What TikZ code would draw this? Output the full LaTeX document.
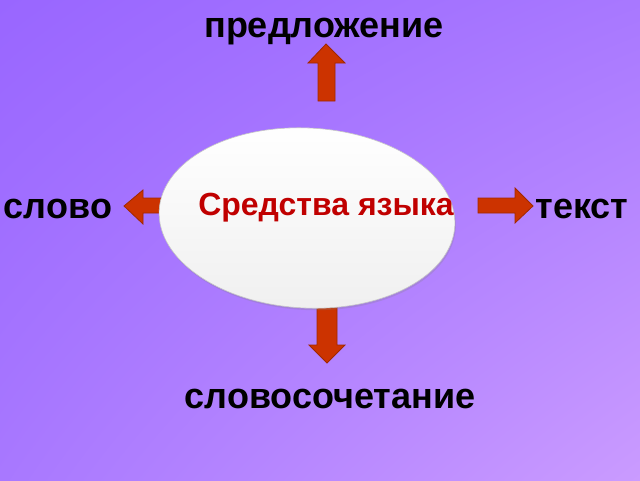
\documentclass[tikz,border=0pt]{standalone}
\usepackage{fontspec}
\setmainfont{Liberation Sans}
\usetikzlibrary{shadows, shadings, shapes.geometric}
\definecolor{bgA}{HTML}{9966FF}
\definecolor{bgB}{HTML}{A878FF}
\definecolor{bgC}{HTML}{CA9BFF}
\definecolor{arrowfill}{HTML}{CC3300}
\definecolor{arrowline}{HTML}{A02800}
\definecolor{titlered}{HTML}{C00000}
\tikzset{
  blockarrow/.style={fill=arrowfill, draw=arrowline, line width=0.8pt, line join=miter},
  word/.style={font=\bfseries\fontsize{36}{40}\selectfont, anchor=base, inner sep=0pt},
}
\begin{document}
\begin{tikzpicture}[x=1pt, y=-1pt]
    % background
    \shade[upper left=bgA, upper right=bgB, lower left=bgB, lower right=bgC] (0,0) rectangle (640,480);
    \useasboundingbox (0,0) rectangle (640,480);

    % arrows (drawn under the oval)
    \path[blockarrow] (318,101) -- (318,63) -- (308,63) -- (326,44) -- (345,63) -- (335,63) -- (335,101) -- cycle;
    \path[blockarrow] (317,290) -- (317,345) -- (309,345) -- (327,363) -- (345,345) -- (337,345) -- (337,290) -- cycle;
    \path[blockarrow] (175,198) -- (143,198) -- (143,190) -- (124,206) -- (143,224) -- (143,213) -- (175,213) -- cycle;
    \path[blockarrow] (478,198) -- (515,198) -- (515,188) -- (533,206) -- (515,223) -- (515,213) -- (478,213) -- cycle;

    % oval in the middle
    \node[ellipse, rotate=-3, minimum width=296pt, minimum height=180pt, top color=white, bottom color=gray!12,
          draw=gray!45, line width=0.6pt, drop shadow={opacity=0.25, shadow xshift=1pt, shadow yshift=-2pt}]
      (oval) at (307,218) {};
    \node[font=\bfseries\fontsize{32}{36}\selectfont, text=titlered, anchor=base, inner sep=0pt]
      (title) at (326,215) {Средства языка};

    % words
    \node[word] (predl) at (324,37) {предложение};
    \node[word] (slovo) at (58,218) {слово};
    \node[word] (tekst) at (582,218) {текст};
    \node[word] (slovosoch) at (330,408) {словосочетание};
\end{tikzpicture}
\end{document}
